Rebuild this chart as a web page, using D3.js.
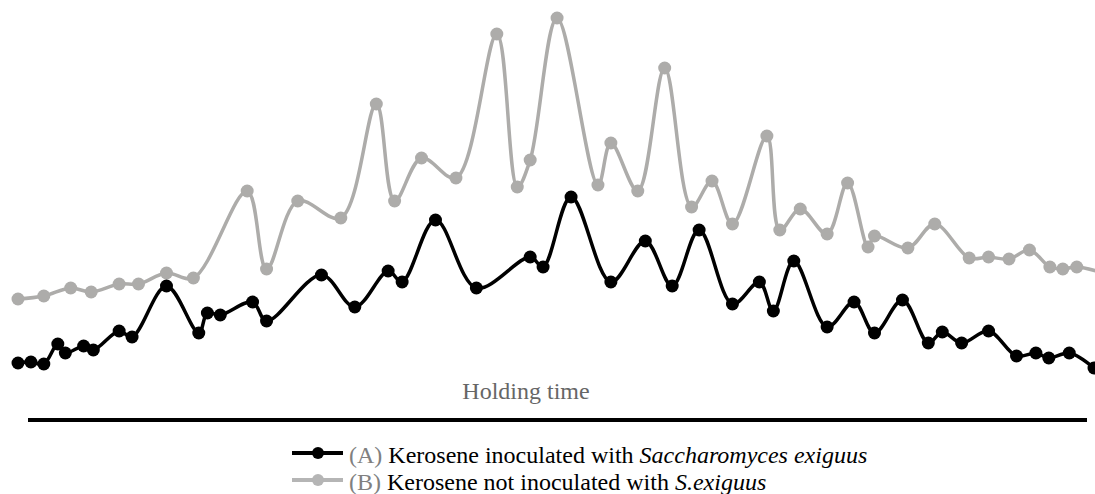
<!DOCTYPE html>
<html>
<head>
<meta charset="utf-8">
<script src="https://cdn.jsdelivr.net/npm/d3@7"></script>
<style>
  html, body { margin: 0; padding: 0; background: #fff; }
  #chart { width: 1095px; height: 494px; }
  .series-line { fill: none; }
</style>
</head>
<body>
<div id="chart"></div>
<script>
'use strict';

// Holding time positions (relative units) and readings per series
const timeA = [0, 1.2, 2.4, 3.7, 4.4, 6.1, 7.0, 9.4, 10.6, 13.8, 16.8, 17.6, 18.8, 21.8, 23.1,
  28.2, 31.3, 34.4, 35.7, 38.8, 42.6, 47.6, 48.8, 51.4, 55.1, 58.3, 60.8, 63.3, 66.4, 68.9,
  70.2, 72.1, 75.2, 77.7, 79.6, 82.2, 84.6, 85.9, 87.7, 90.2, 92.8, 94.6, 95.8, 97.7, 100];
const valuesA = [9.25, 9.5, 9.0, 14.0, 11.75, 13.5, 12.5, 17.25, 15.75, 28.5, 16.75, 21.75, 21.25, 24.5, 19.75,
  31.25, 23.25, 32.25, 29.5, 45, 28, 35.75, 33.25, 50.75, 29.5, 39.75, 28.5, 42.5, 24, 29.5,
  22.25, 34.75, 18.25, 24.5, 16.75, 25, 14.25, 17, 14.25, 17.25, 11, 11.75, 10.5, 11.75, 8];

const timeB = [0, 2.4, 4.9, 6.8, 9.4, 11.2, 13.8, 16.3, 21.3, 23.1, 26.0, 30.0, 33.3, 35.0, 37.5,
  40.7, 44.5, 46.4, 47.6, 50.1, 53.9, 55.1, 57.6, 60.1, 62.6, 64.5, 66.4, 69.6, 70.8, 72.7,
  75.2, 77.1, 79.0, 79.6, 82.7, 85.2, 88.4, 90.2, 92.1, 94.0, 95.9, 97.1, 98.4, 101.2];
const valuesB = [25.25, 26, 28, 27, 29, 29, 31.75, 30.5, 52.25, 32.75, 49.75, 45.5, 74, 49.75, 60.5,
  55.5, 91.5, 53.25, 60, 95.5, 53.75, 64.25, 52.25, 83, 48.25, 54.75, 44, 66, 42.5, 47.75,
  41.5, 54.25, 38.25, 41, 38, 44, 35.5, 35.75, 35.25, 37.5, 33.25, 32.75, 33.25, 31.5];

const seriesNames = ['A', 'B'];
const seriesColors = ['#000000', '#adacaa'];
const legendLabels = [
  [{ t: '(A) ', c: 'tag' }, { t: 'Kerosene inoculated with ' }, { t: 'Saccharomyces exiguus', i: true }],
  [{ t: '(B) ', c: 'tag' }, { t: 'Kerosene not inoculated with ' }, { t: 'S.exiguus', i: true }]
];
const axisTitle = 'Holding time';

(function () {
  const width = 1095;
  const height = 494;
  const SERIF = "'Liberation Serif'";

  const svg = d3.select('#chart')
    .append('svg')
    .attr('width', width)
    .attr('height', height)
    .attr('viewBox', `0 0 ${width} ${height}`);

  const x = d3.scaleLinear().domain([0, 100]).range([18, 1094]);
  const y = d3.scaleLinear().domain([0, 100]).range([400, 0]);

  const series = [
    { name: seriesNames[0], color: seriesColors[0], pts: timeA.map((t, i) => [t, valuesA[i]]) },
    { name: seriesNames[1], color: seriesColors[1], pts: timeB.map((t, i) => [t, valuesB[i]]) }
  ];

  const line = d3.line()
    .x(d => x(d[0]))
    .y(d => y(d[1]))
    .curve(d3.curveCatmullRom.alpha(0.5));

  // gray series sits behind the black one
  const gSeries = svg.append('g').attr('class', 'series-layer');
  [series[1], series[0]].forEach(s => {
    const g = gSeries.append('g').attr('class', 'series series-' + s.name);
    g.append('path')
      .attr('class', 'series-line')
      .attr('d', line(s.pts))
      .attr('stroke', s.color)
      .attr('stroke-width', 3.5)
      .attr('stroke-linejoin', 'round');
    g.selectAll('circle')
      .data(s.pts)
      .join('circle')
      .attr('cx', d => x(d[0]))
      .attr('cy', d => y(d[1]))
      .attr('r', 6.5)
      .attr('fill', s.color);
  });

  // time axis: plain rule + title
  svg.append('line')
    .attr('x1', 28).attr('x2', 1087)
    .attr('y1', 420).attr('y2', 420)
    .attr('stroke', '#000')
    .attr('stroke-width', 4);

  svg.append('text')
    .attr('x', 526)
    .attr('y', 399)
    .attr('text-anchor', 'middle')
    .style('font-family', SERIF)
    .style('font-size', '24px')
    .attr('fill', '#666')
    .text(axisTitle);

  // legend
  const legend = svg.append('g').attr('class', 'legend');
  const rowY = [453, 480];
  const baseY = [463, 490];
  series.forEach((s, i) => {
    const c = i === 0 ? '#000' : '#b5b5b5';
    legend.append('line')
      .attr('x1', 292).attr('x2', 343)
      .attr('y1', rowY[i]).attr('y2', rowY[i])
      .attr('stroke', c)
      .attr('stroke-width', 4);
    legend.append('circle')
      .attr('cx', 318).attr('cy', rowY[i])
      .attr('r', 6)
      .attr('fill', c);
    const txt = legend.append('text')
      .attr('x', 349)
      .attr('y', baseY[i])
      .style('font-family', SERIF)
      .style('font-size', '24px');
    legendLabels[i].forEach(part => {
      txt.append('tspan')
        .text(part.t)
        .attr('fill', part.c === 'tag' ? '#808080' : '#000')
        .style('font-style', part.i ? 'italic' : 'normal');
    });
  });
})();
</script>
</body>
</html>
